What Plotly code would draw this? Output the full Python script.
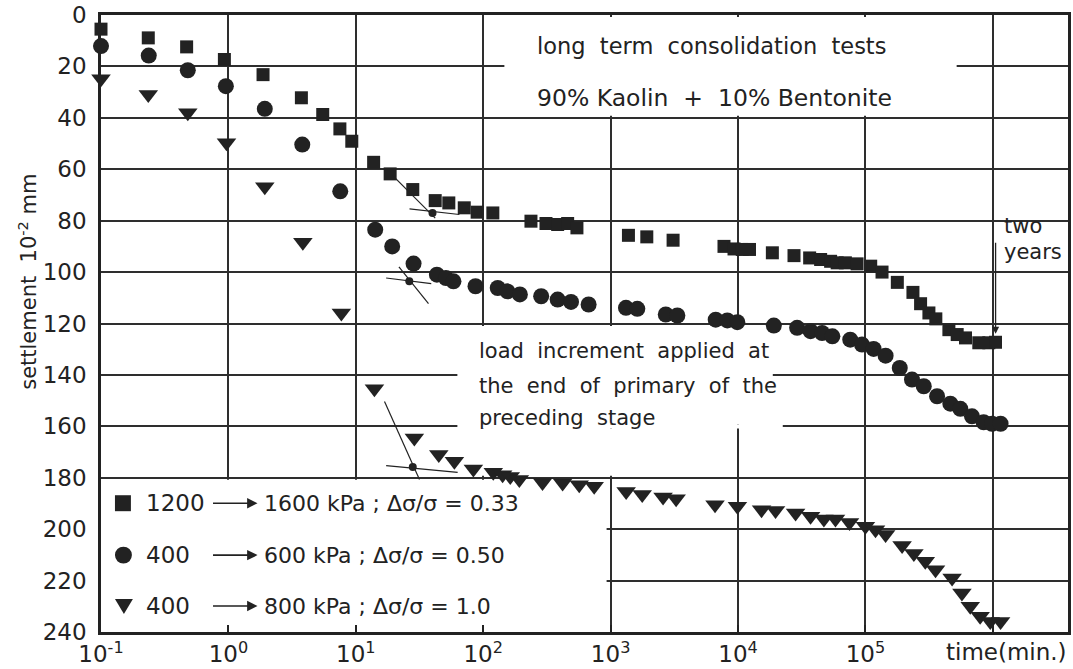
import numpy as np
import plotly.graph_objects as go

# ---------------- data: settlement (10^-2 mm) vs time (min) ----------------
# 1200 -> 1600 kPa, d(sigma)/sigma = 0.33
sq_time = [0.1, 0.235, 0.47, 0.93, 1.87, 3.74, 5.5, 7.5, 9.3, 13.8, 18.6, 28, 42, 53.7,
           71, 89.6, 119, 237, 311, 384, 460, 544, 1380, 1923, 3093, 7760, 9300, 10800,
           12300, 18600, 27500, 36500, 44500, 53300, 60000, 69600, 86000, 110000,
           135000, 178000, 236000, 271000, 315000, 357000, 452000, 525000, 610000,
           776000, 930000, 1050000]
sq_settle = [5.5, 8.9, 12.4, 17.3, 23.2, 32.2, 38.7, 44.3, 49.1, 57.3, 61.8, 67.9, 72.2,
             73.1, 75.0, 76.7, 77.0, 80.2, 81.1, 81.5, 81.1, 82.8, 85.7, 86.3, 87.6, 90.0,
             91.0, 91.2, 91.2, 92.5, 93.6, 94.5, 95.1, 95.8, 96.4, 96.4, 96.8, 97.7, 100.0,
             104.0, 107.9, 112.3, 115.9, 118.2, 122.4, 124.3, 125.6, 127.5, 127.5, 127.3]

# 400 -> 600 kPa, d(sigma)/sigma = 0.50
circ_time = [0.1, 0.237, 0.48, 0.955, 1.93, 3.8, 7.55, 14.2, 19.3, 28.4, 43.3, 51, 58.4,
             87, 130, 155, 194, 285, 384, 489, 672, 1320, 1620, 2710, 3340, 6680, 8240,
             9870, 19100, 29100, 37100, 45700, 55000, 76000, 94000, 116000, 144000,
             186000, 232000, 287000, 365000, 464000, 556000, 686000, 847000, 985000,
             1150000]
circ_settle = [12.1, 15.8, 21.5, 27.7, 36.5, 50.4, 68.6, 83.5, 90.0, 96.7, 101.0, 102.3,
               103.6, 105.5, 106.2, 107.5, 108.7, 109.4, 110.7, 111.6, 112.6, 113.9, 114.3,
               116.5, 116.9, 118.5, 118.8, 119.5, 120.8, 121.7, 123.0, 123.7, 125.0, 126.3,
               128.2, 129.9, 132.5, 137.3, 141.8, 144.4, 148.3, 151.2, 153.2, 156.1, 158.4,
               159.0, 159.0]

# 400 -> 800 kPa, d(sigma)/sigma = 1.0
tri_time = [0.1, 0.235, 0.48, 0.966, 1.93, 3.84, 7.7, 14, 28.8, 44.8, 59.4, 83.7, 120,
            142, 163, 192, 292, 420, 567, 743, 1324, 1770, 2580, 3266, 6600, 9890, 15300,
            19700, 28300, 37100, 47200, 58200, 75000, 100000, 120000, 144000, 194000,
            240000, 295000, 355000, 479000, 572000, 665000, 795000, 955000, 1150000]
tri_settle = [24.8, 30.9, 38.0, 49.7, 66.8, 88.4, 115.9, 145.4, 164.5, 171.0, 173.6,
              176.6, 177.9, 178.8, 179.5, 180.7, 181.8, 182.0, 182.7, 183.3, 185.3, 186.5,
              187.5, 188.2, 190.5, 191.1, 192.4, 192.7, 193.7, 195.0, 196.0, 196.0, 197.4,
              198.9, 200.2, 202.1, 206.4, 209.5, 212.5, 215.8, 219.0, 224.8, 230.0, 233.9,
              235.9, 235.9]

# end-of-primary construction (tangent lines and their intersection)
sq_steep_t, sq_steep_s = [19.5, 42], [62.5, 79.0]
sq_flat_t, sq_flat_s = [26.4, 65], [75.4, 77.6]
sq_eop_t, sq_eop_s = [40], [77.0]
circ_steep_t, circ_steep_s = [21.8, 37.2], [98.0, 112.3]
circ_flat_t, circ_flat_s = [17.3, 39.1], [102.3, 104.5]
circ_eop_t, circ_eop_s = [26.3], [103.6]
tri_steep_t, tri_steep_s = [16.8, 31.6], [150.3, 180.7]
tri_flat_t, tri_flat_s = [17.3, 63], [175.3, 177.9]
tri_eop_t, tri_eop_s = [28], [175.8]

x_tick_vals = [0.1, 1, 10, 100, 1e3, 1e4, 1e5, 1e6]
x_tick_text = ["10<sup>-1</sup>", "10<sup>0</sup>", "10<sup>1</sup>", "10<sup>2</sup>",
               "10<sup>3</sup>", "10<sup>4</sup>", "10<sup>5</sup>", ""]
y_tick_vals = list(range(0, 241, 20))

TWO_YEARS_MIN = 2 * 365 * 24 * 60

legend_rows = [
    ("1200", "1600 kPa ; Δσ/σ = 0.33"),
    ("400", "600 kPa ; Δσ/σ = 0.50"),
    ("400", "800 kPa ; Δσ/σ = 1.0"),
]

# ---------------- styling ----------------
INK = "#222222"
GRID = "#2e2e2e"
FONT = "DejaVu Sans"

W, H = 1073, 669
L, R, T, B = 101, 2, 15, 36
PW, PH = W - L - R, H - T - B


def xp(px):
    return (px - L) / PW


def yp(py):
    return 1 - (py - T) / PH


fig = go.Figure()


def add_points(t, s, symbol, size):
    fig.add_trace(go.Scatter(x=t, y=s, mode="markers", cliponaxis=False,
                             marker=dict(symbol=symbol, size=size, color=INK,
                                         line=dict(width=0)),
                             showlegend=False))


add_points(sq_time, sq_settle, "square", 13)
add_points(circ_time, circ_settle, "circle", 16)
add_points(tri_time, tri_settle, "triangle-down", 17)

for t, s in [(sq_steep_t, sq_steep_s), (sq_flat_t, sq_flat_s),
             (circ_steep_t, circ_steep_s), (circ_flat_t, circ_flat_s),
             (tri_steep_t, tri_steep_s), (tri_flat_t, tri_flat_s)]:
    fig.add_trace(go.Scatter(x=t, y=s, mode="lines", line=dict(color=INK, width=1.2),
                             showlegend=False))
for t, s in [(sq_eop_t, sq_eop_s), (circ_eop_t, circ_eop_s), (tri_eop_t, tri_eop_s)]:
    fig.add_trace(go.Scatter(x=t, y=s, mode="markers",
                             marker=dict(size=8, color=INK), showlegend=False))

# white panels behind the text blocks (hide the grid there, not the data)
mask = dict(type="rect", xref="x", yref="y", layer="between",
            fillcolor="white", line=dict(width=0))
shapes = [
    dict(mask, x0=146.6, x1=5.2e5, y0=0.8, y1=39.2),
    dict(mask, x0=62.7, x1=18750, y0=121.0, y1=159.3),
    dict(mask, x0=62.7, x1=22450, y0=159.3, y1=160.8),
    dict(mask, x0=62.7, x1=4000, y0=160.8, y1=179.2),
    dict(mask, x0=0.1, x1=930, y0=180.8, y1=239.2),
]

# legend keys
shapes.append(dict(type="rect", xref="paper", yref="paper", layer="above",
                   x0=xp(115), x1=xp(131), y0=yp(512), y1=yp(496),
                   fillcolor=INK, line=dict(width=0)))
shapes.append(dict(type="circle", xref="paper", yref="paper", layer="above",
                   x0=xp(115), x1=xp(132), y0=yp(564.5), y1=yp(547.5),
                   fillcolor=INK, line=dict(width=0)))
shapes.append(dict(type="path", xref="paper", yref="paper", layer="above",
                   path=f"M {xp(115)},{yp(600)} L {xp(133)},{yp(600)} L {xp(124)},{yp(615)} Z",
                   fillcolor=INK, line=dict(width=0)))

ann = []


def text(s, x, y, size, anchor="left"):
    ann.append(dict(text=s, x=xp(x), y=yp(y), xref="paper", yref="paper",
                    xanchor=anchor, yanchor="middle", showarrow=False,
                    font=dict(family=FONT, size=size, color=INK)))


text("long  term  consolidation  tests", 713, 46, 22.5, "center")
text("90% Kaolin  +  10% Bentonite", 716, 98, 23.5, "center")
text("load  increment  applied  at", 478, 352, 21)
text("the  end  of  primary  of  the", 478, 387, 21)
text("preceding  stage", 478, 419, 21)
text("two", 1005, 226, 21)
text("years", 1005, 252, 21)
text("time(min.)", 1009, 653, 23, "center")

row_y = [504, 556, 607]
for (lo, hi), yy in zip(legend_rows, row_y):
    text(lo, 144, yy, 23)
    text(hi, 262, yy, 22)
    ann.append(dict(text="", x=xp(258), y=yp(yy), xref="paper", yref="paper",
                    ax=-46, ay=0, showarrow=True, arrowhead=2, arrowsize=1.3,
                    arrowwidth=1.6, arrowcolor=INK))

# y-axis title
ann.append(dict(text="settlement  10<sup>-2</sup> mm", x=xp(27), y=yp(282),
                xref="paper", yref="paper", textangle=-90, showarrow=False,
                xanchor="center", yanchor="middle",
                font=dict(family=FONT, size=21, color=INK)))

# two-year marker
lx2 = float(np.log10(TWO_YEARS_MIN))
ann.append(dict(text="", x=lx2, y=124, xref="x", yref="y", axref="x", ayref="y",
                ax=lx2, ay=88, showarrow=True, arrowhead=2, arrowsize=1.1,
                arrowwidth=1.3, arrowcolor=INK))

fig.update_layout(
    width=W, height=H,
    margin=dict(l=L, r=R, t=T, b=B, pad=0),
    paper_bgcolor="white", plot_bgcolor="white",
    showlegend=False,
    shapes=shapes, annotations=ann,
    font=dict(family=FONT, color=INK),
    xaxis=dict(type="log", range=[-1, 6.59], tickvals=x_tick_vals, ticktext=x_tick_text,
               showgrid=True, gridcolor=GRID, gridwidth=1.6, zeroline=False,
               showline=True, linecolor=INK, linewidth=2.5, mirror=True,
               ticks="inside", ticklen=7, tickwidth=1.6, tickcolor=INK,
               tickfont=dict(family=FONT, size=23, color=INK)),
    yaxis=dict(range=[240, 0], tickvals=y_tick_vals,
               showgrid=True, gridcolor=GRID, gridwidth=1.6, zeroline=False,
               showline=True, linecolor=INK, linewidth=2.5, mirror=True,
               ticks="", ticklabelstandoff=7,
               tickfont=dict(family=FONT, size=23, color=INK)),
)

fig.write_html("out.html")
